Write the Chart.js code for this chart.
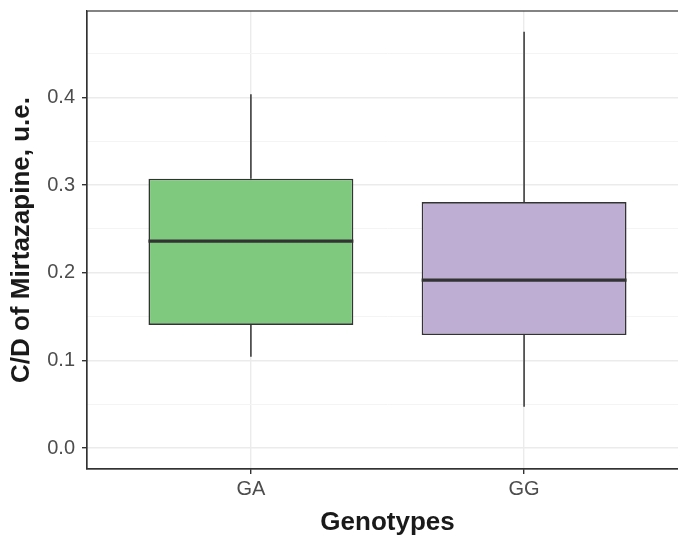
<!DOCTYPE html>
<html>
<head>
<meta charset="utf-8">
<script src="https://cdn.jsdelivr.net/npm/chart.js@4/dist/chart.umd.min.js"></script>
<style>
  html, body { margin: 0; padding: 0; background: #fff; overflow: hidden; }
  #wrap { width: 688px; height: 537px; position: relative; }
</style>
</head>
<body>
<div id="wrap"><canvas id="chart"></canvas></div>
<script>
// box plot stats
const genotypes = ['GA', 'GG'];
const whiskerLow = [0.1043, 0.0472];
const q1 = [0.1405, 0.1290];
const median = [0.2360, 0.1915];
const q3 = [0.3072, 0.2806];
const whiskerHigh = [0.4034, 0.4747];
const boxColors = ['#7FC97F', '#BEAED4'];

// y ticks: majors get labels, the in-between ones are minor grid lines only
const yTicks = [0, 0.05, 0.1, 0.15, 0.2, 0.25, 0.3, 0.35, 0.4, 0.45];
const yLabels = { 0: '0.0', 0.1: '0.1', 0.2: '0.2', 0.3: '0.3', 0.4: '0.4' };

const dark = '#333333';

const isMajor = (v) => Object.keys(yLabels).some(k => Math.abs(Number(k) - v) < 1e-9);

// whiskers under the boxes, medians + panel border on top
const boxPlotParts = {
  id: 'boxPlotParts',
  beforeDatasetsDraw(chart) {
    const { ctx, scales: { x, y } } = chart;
    ctx.save();
    ctx.strokeStyle = dark;
    ctx.lineWidth = 1.5;
    genotypes.forEach((g, i) => {
      const px = x.getPixelForValue(i + 1);
      ctx.beginPath();
      ctx.moveTo(px, y.getPixelForValue(whiskerHigh[i]));
      ctx.lineTo(px, y.getPixelForValue(q3[i]));
      ctx.moveTo(px, y.getPixelForValue(q1[i]));
      ctx.lineTo(px, y.getPixelForValue(whiskerLow[i]));
      ctx.stroke();
    });
    ctx.restore();
  },
  afterDatasetsDraw(chart) {
    const { ctx, chartArea, scales: { x, y } } = chart;
    const meta = chart.getDatasetMeta(0);
    ctx.save();
    ctx.strokeStyle = dark;
    ctx.lineWidth = 3.2;
    meta.data.forEach((bar, i) => {
      const py = y.getPixelForValue(median[i]);
      ctx.beginPath();
      ctx.moveTo(bar.x - bar.width / 2, py);
      ctx.lineTo(bar.x + bar.width / 2, py);
      ctx.stroke();
    });
    ctx.lineWidth = 1.2;
    ctx.strokeRect(chartArea.left, chartArea.top, chartArea.right - chartArea.left, chartArea.bottom - chartArea.top);
    ctx.restore();
  }
};

new Chart(document.getElementById('chart'), {
  type: 'bar',
  data: {
    datasets: [{
      data: genotypes.map((g, i) => ({ x: i + 1, y: [q1[i], q3[i]] })),
      backgroundColor: boxColors,
      borderColor: dark,
      borderWidth: 1.6,
      borderSkipped: false,
      barPercentage: 0.75,
      categoryPercentage: 1
    }]
  },
  options: {
    responsive: true,
    maintainAspectRatio: false,
    animation: false,
    layout: { padding: { top: 11, right: 0, left: 0, bottom: 0 } },
    plugins: { legend: { display: false }, tooltip: { enabled: false } },
    scales: {
      x: {
        type: 'linear',
        min: 0.4,
        max: 2.6,
        offset: false,
        afterBuildTicks: (scale) => { scale.ticks = genotypes.map((g, i) => ({ value: i + 1 })); },
        afterFit: (scale) => { scale.height = 68; scale.paddingLeft = 0; scale.paddingRight = 0; },
        ticks: {
          callback: (v) => genotypes[v - 1] || '',
          color: '#4d4d4d',
          font: { family: 'Liberation Sans', size: 20 },
          padding: 3,
          maxRotation: 0
        },
        grid: { offset: false, color: '#ebebeb', lineWidth: 1.4, tickColor: dark, tickLength: 5 },
        border: { display: true, color: dark, width: 1.2 },
        title: {
          display: true,
          text: 'Genotypes',
          color: '#1a1a1a',
          font: { family: 'Liberation Sans', size: 26, weight: 'bold', lineHeight: 1 },
          padding: { top: 0, bottom: 1 }
        }
      },
      y: {
        min: -0.02375,
        max: 0.4984,
        afterBuildTicks: (scale) => { scale.ticks = yTicks.map(v => ({ value: v })); },
        afterFit: (scale) => { scale.width = 87; scale.paddingTop = 0; scale.paddingBottom = 0; },
        ticks: {
          callback: (v) => {
            const k = Object.keys(yLabels).find(k => Math.abs(Number(k) - v) < 1e-9);
            return k !== undefined ? yLabels[k] : '';
          },
          color: '#4d4d4d',
          font: { family: 'Liberation Sans', size: 20 },
          padding: 7
        },
        grid: {
          color: (c) => isMajor(c.tick.value) ? '#ebebeb' : '#f4f4f4',
          lineWidth: (c) => isMajor(c.tick.value) ? 1.4 : 1,
          tickColor: (c) => isMajor(c.tick.value) ? dark : 'rgba(0,0,0,0)',
          tickLength: 5
        },
        border: { display: true, color: dark, width: 1.2 },
        title: {
          display: true,
          text: 'C/D of Mirtazapine, u.e.',
          color: '#1a1a1a',
          font: { family: 'Liberation Sans', size: 26, weight: 'bold', lineHeight: 1 },
          padding: { top: 9, bottom: 0 }
        }
      }
    }
  },
  plugins: [boxPlotParts]
});
</script>
</body>
</html>
